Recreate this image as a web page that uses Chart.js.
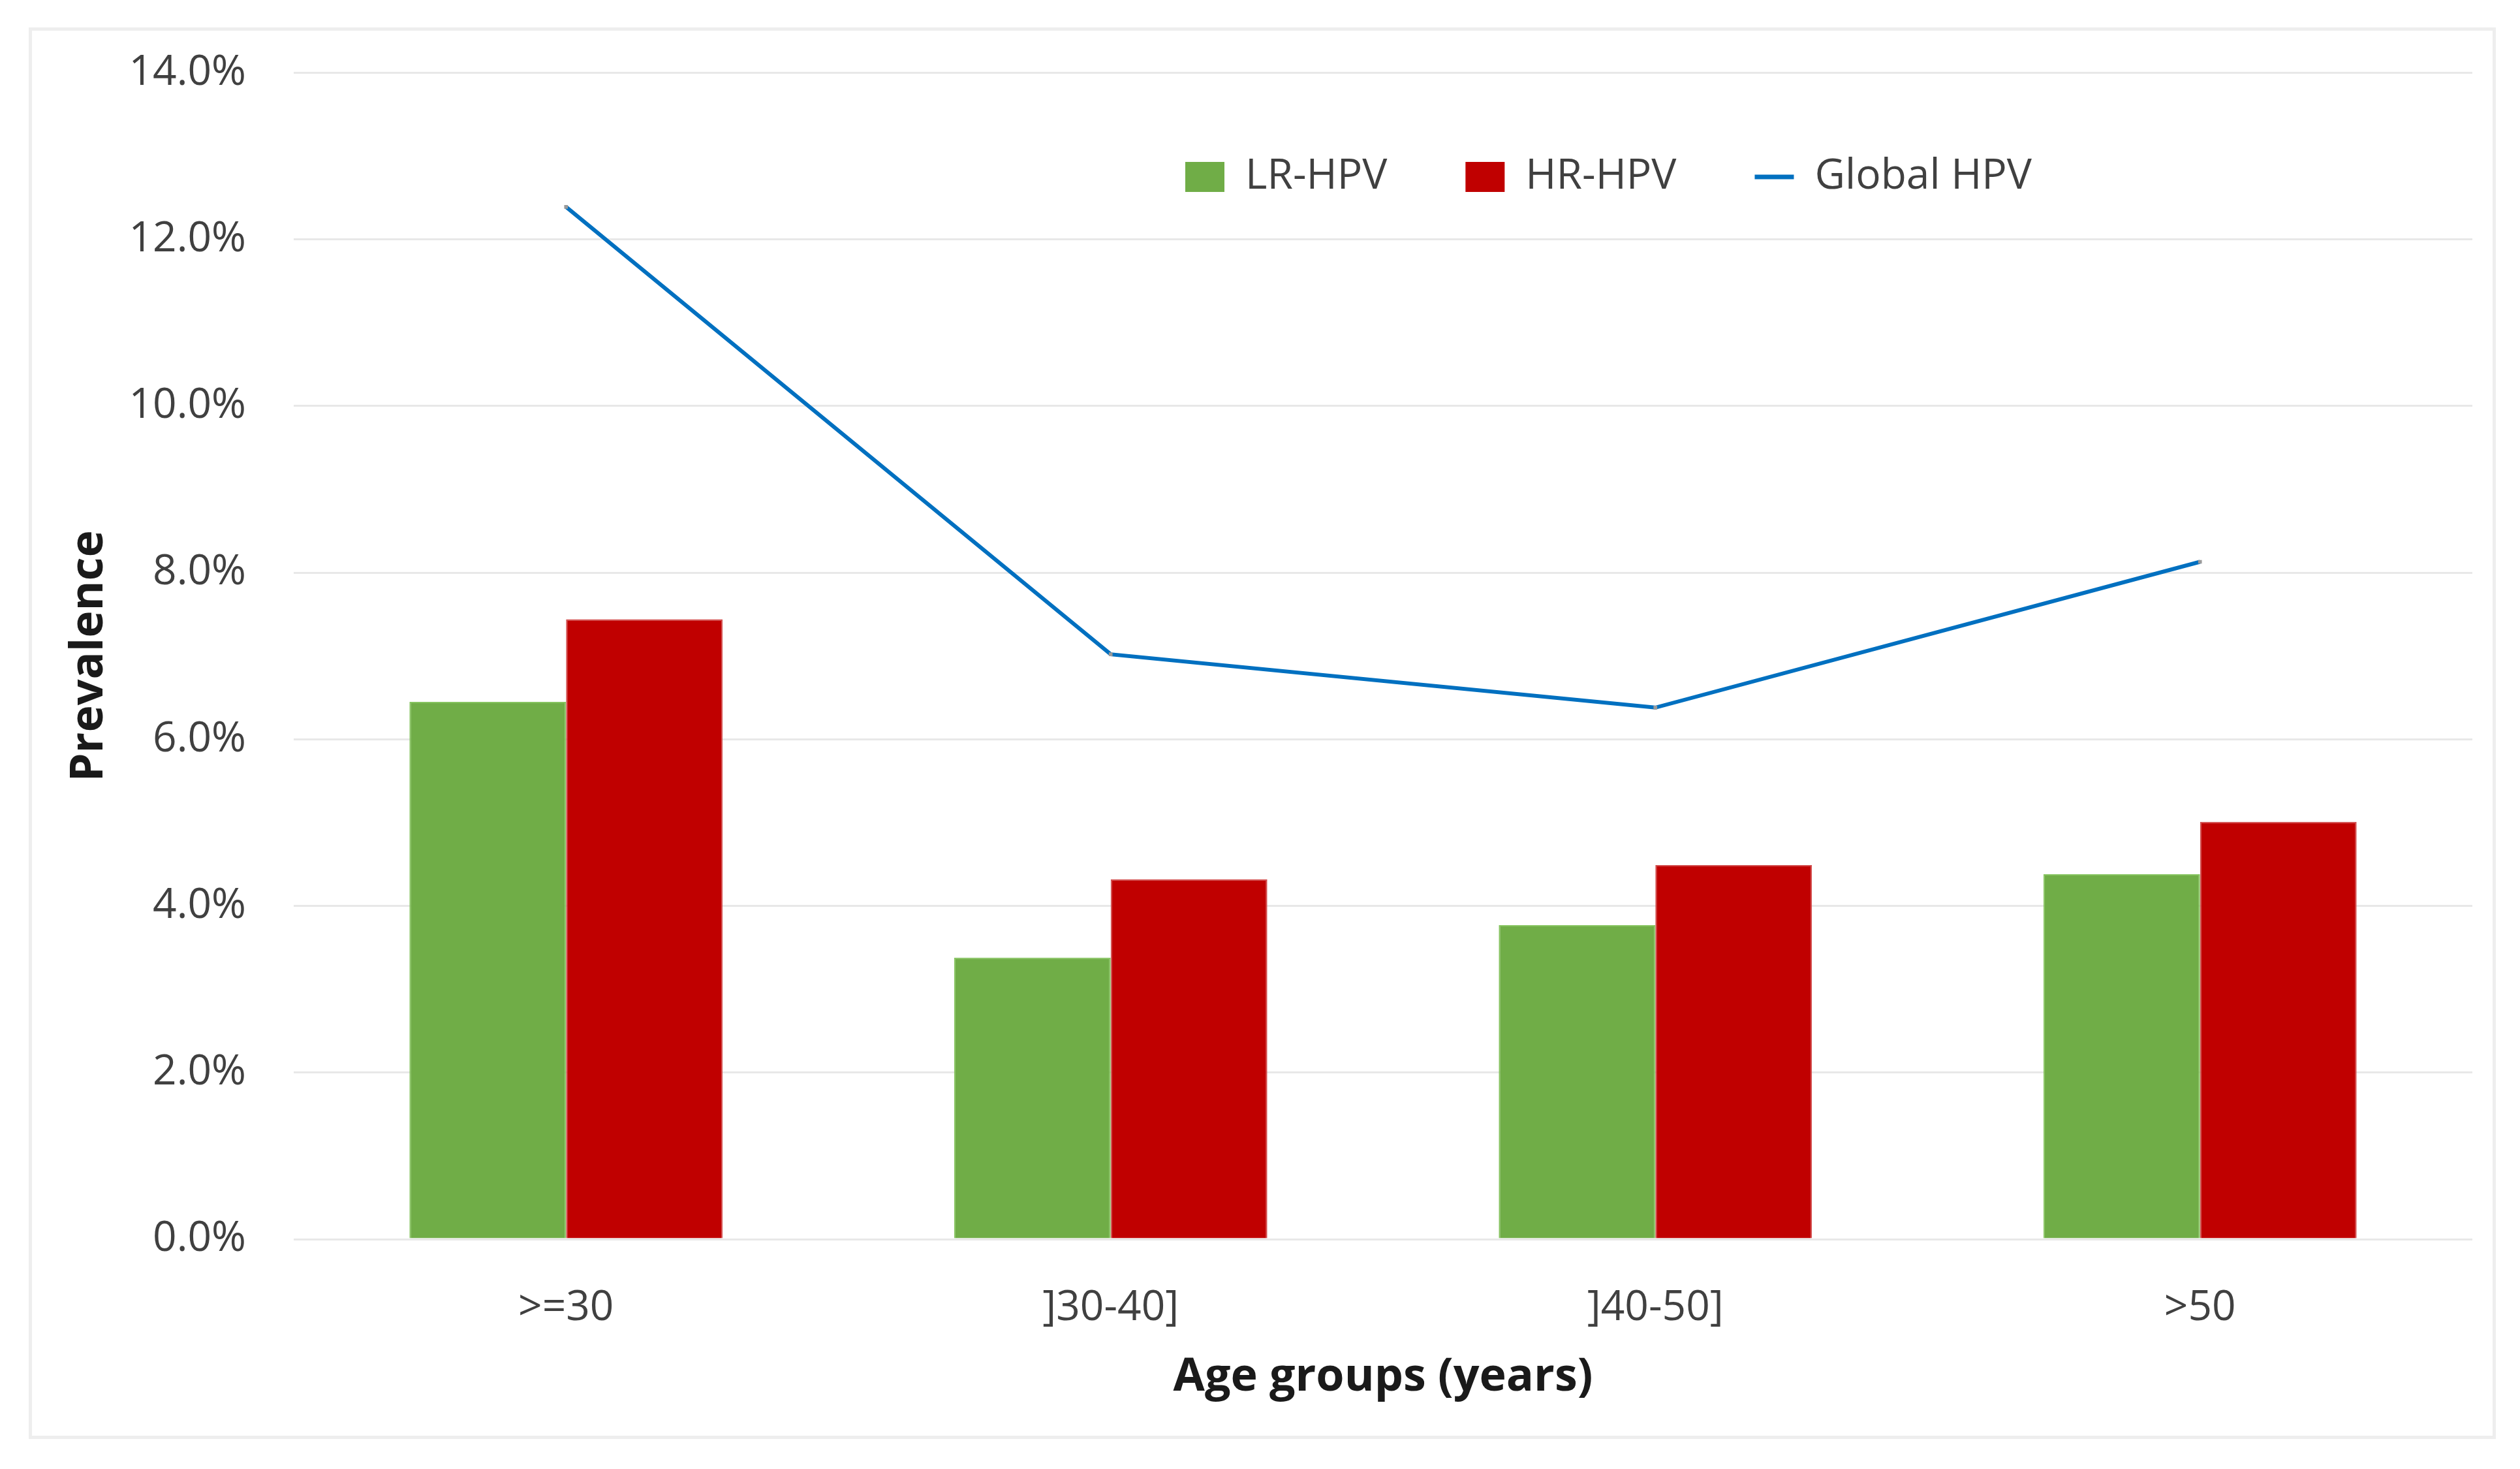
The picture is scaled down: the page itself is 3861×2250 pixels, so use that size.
<!DOCTYPE html>
<html>
<head>
<meta charset="utf-8">
<title>HPV prevalence by age group</title>
<script src="https://cdn.jsdelivr.net/npm/chart.js@4.4.1/dist/chart.umd.min.js"></script>
<style>
  html, body { margin: 0; padding: 0; background: #fff; }
  #wrap { position: relative; width: 3861px; height: 2250px; }
  #frame { position: absolute; left: 44px; top: 42px; width: 3770px; height: 2152px; border: 5px solid #eeeeee; }
  #wrap canvas { position: absolute; left: 0; top: 0; }
</style>
</head>
<body>
<div id="wrap">
  <div id="frame"></div>
  <canvas id="hpv"></canvas>
</div>
<script>
// age groups on the x axis
const ageGroups = ['>=30', ']30-40]', ']40-50]', '>50'];
// prevalence, in percent
const lrHpv = [6.45, 3.38, 3.77, 4.38];
const hrHpv = [7.44, 4.32, 4.49, 5.01];
const globalHpv = [12.39, 7.02, 6.38, 8.13];
// y axis ticks
const yTicks = [0, 2, 4, 6, 8, 10, 12, 14];
const legendOrder = ['LR-HPV', 'HR-HPV', 'Global HPV'];

const FONT = "'Open Sans', 'Noto Sans', sans-serif";

// the legend keeps only 1px of layout space; here it is moved into the plot
const legendInside = {
    id: 'legendInside',
    beforeDraw(chart) {
        const lg = chart.legend;
        lg.left = 1696;
        lg.right = 3788;
        lg.top = 119;
        lg.bottom = 119 + 300;
    }
};

const data = {
    labels: ageGroups,
    datasets: [
        {
            type: 'line',
            label: 'Global HPV',
            data: globalHpv,
            borderColor: '#0070C0',
            backgroundColor: '#0070C0',
            borderWidth: 6,
            pointRadius: 4,
            pointStyle: 'rect',
            pointBackgroundColor: '#9a9a9a',
            pointBorderWidth: 0,
            tension: 0,
            order: 0
        },
        {
            label: 'LR-HPV',
            data: lrHpv,
            backgroundColor: '#70AD47',
            borderColor: '#86c45f',
            borderWidth: 2,
            order: 1
        },
        {
            label: 'HR-HPV',
            data: hrHpv,
            backgroundColor: '#C00000',
            borderColor: '#d24c4c',
            borderWidth: 2,
            order: 1
        }
    ]
};

new Chart(document.getElementById('hpv'), {
    type: 'bar',
    data: data,
    plugins: [legendInside],
    options: {
        responsive: true,
        maintainAspectRatio: false,
        devicePixelRatio: 1,
        animation: false,
        layout: { padding: { left: 0, right: 73, top: 102, bottom: 0 } },
        datasets: {
            bar: { categoryPercentage: 0.575, barPercentage: 1.0 }
        },
        plugins: {
            tooltip: { enabled: false },
            legend: {
                position: 'top',
                align: 'start',
                maxHeight: 1,
                labels: {
                    usePointStyle: true,
                    pointStyleWidth: 60,
                    boxWidth: 60,
                    boxHeight: 46,
                    padding: 120,
                    color: '#404040',
                    font: { family: FONT, size: 64 },
                    sort: (a, b) => legendOrder.indexOf(a.text) - legendOrder.indexOf(b.text),
                    generateLabels: function(chart) {
                        const items = Chart.defaults.plugins.legend.labels.generateLabels(chart);
                        items.forEach((it) => {
                            if (it.text === 'Global HPV') {
                                it.pointStyle = 'line';
                                it.strokeStyle = '#0070C0';
                                it.lineWidth = 7;
                            } else {
                                it.pointStyle = 'rect';
                                it.lineWidth = 0;
                            }
                        });
                        return items;
                    }
                }
            }
        },
        scales: {
            x: {
                grid: { display: false },
                border: { display: false },
                ticks: {
                    padding: 59,
                    color: '#404040',
                    font: { family: FONT, size: 64 }
                },
                title: {
                    display: true,
                    text: 'Age groups (years)',
                    color: '#1a1a1a',
                    font: { family: FONT, size: 70, weight: 'bold' },
                    padding: { top: 0, bottom: 98 }
                },
                afterFit: function(scale) { scale.height = 352; }
            },
            y: {
                min: 0,
                max: 14,
                afterBuildTicks: function(scale) {
                    scale.ticks = yTicks.map((v) => ({ value: v }));
                },
                grid: { color: '#e8e8e8', lineWidth: 3, drawTicks: false },
                border: { display: false },
                ticks: {
                    padding: 73,
                    color: '#404040',
                    font: { family: FONT, size: 64 },
                    callback: (v) => v.toFixed(1) + '%'
                },
                title: {
                    display: true,
                    text: 'Prevalence',
                    color: '#1a1a1a',
                    font: { family: FONT, size: 70, weight: 'bold' },
                    padding: { top: 95, bottom: 0 }
                },
                afterFit: function(scale) { scale.width = 450; }
            }
        }
    }
});
</script>
</body>
</html>
